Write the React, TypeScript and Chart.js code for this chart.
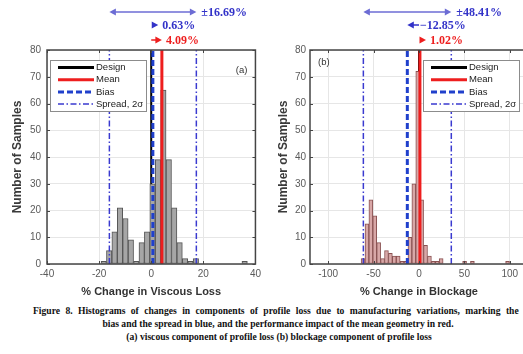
import React, { useEffect, useRef } from 'react';
import { Chart, registerables } from 'chart.js';

Chart.register(...registerables);

const SANS = "'Liberation Sans', Arial, sans-serif";
const SERIF = "'Liberation Serif', 'Times New Roman', serif";

// ---------- Panel (a): % change in viscous loss ----------
const viscousBinCenters = [
  -18.22, -16.14, -14.06, -11.98, -9.9, -7.82, -5.74, -3.66, -1.58, 0.5, 2.58, 4.66, 6.74, 8.82,
  10.9, 12.98, 15.06, 17.14, 19.22, 21.3, 23.38, 25.46, 27.54, 29.62, 31.7, 33.78, 35.86,
];
const viscousCounts = [
  1, 5, 12, 21, 17, 9, 1, 8, 12, 30, 39, 65, 39, 21,
  8, 2, 1, 2, 0, 0, 0, 0, 0, 0, 0, 0, 1,
];
const viscousXTicks = [-40, -20, 0, 20, 40];
const viscousXRange = [-40, 40];
const viscousDesign = 0;
const viscousBias = 0.63;
const viscousMean = 4.09;
const viscousSpread = 16.69;

// ---------- Panel (b): % change in blockage ----------
const blockageBinCenters = [
  -61.6, -57.3, -53.0, -48.7, -44.4, -40.1, -35.8, -31.5, -27.2, -22.9, -18.6, -14.3, -10.0,
  -5.7, -1.4, 2.9, 7.2, 11.5, 15.8, 20.1, 24.4, 28.7, 33.0, 37.3, 41.6, 45.9, 50.2, 54.5,
  58.8, 63.1, 67.4, 71.7, 76.0, 80.3, 84.6, 88.9, 93.2, 97.5,
];
const blockageCounts = [
  2, 15, 24, 18, 8, 2, 5, 4, 3, 3, 1, 1, 10,
  30, 72, 24, 7, 3, 1, 1, 2, 0, 0, 0, 0, 0, 1, 0,
  1, 0, 0, 0, 0, 0, 0, 0, 0, 1,
];
const blockageXTicks = [-100, -50, 0, 50, 100];
const blockageXRange = [-120, 120];
const blockageDesign = 0;
const blockageBias = -12.85;
const blockageMean = 1.02;
const blockageSpread = 48.41;

// ---------- shared ----------
const yTicks = [0, 10, 20, 30, 40, 50, 60, 70, 80];
const yRange = [0, 80];
const legendLabels = ['Design', 'Mean', 'Bias', 'Spread, 2\u03c3'];
const yTitle = 'Number of Samples';
const xTitleA = '% Change in Viscous Loss';
const xTitleB = '% Change in Blockage';
const panelLabelA = '(a)';
const panelLabelB = '(b)';
const captionLines = [
  'Figure 8.  Histograms of changes in components of profile loss due to manufacturing variations, marking the',
  'bias and the spread in blue, and the performance impact of the mean geometry in red.',
  '(a) viscous component of profile loss  (b) blockage component of profile loss',
];

const C_DESIGN = '#000000';
const C_MEAN = '#ee1e1e';
const C_BIAS = '#2040cc';
const C_SPREAD = '#3a3ad0';
const C_ARROW = '#6c6cd4';
const C_ANN_BLUE = '#3232c8';

const fmtPct = (v: number) => (v < 0 ? '\u2212' : '') + Math.abs(v).toFixed(2) + '%';

type PanelCfg = {
  centers: number[];
  counts: number[];
  xTicks: number[];
  xRange: number[];
  design: number;
  bias: number;
  mean: number;
  spread: number;
  xTitle: string;
  label: string;
  barFill: string;
  barEdge: string;
  canvasLeft: number;
  canvasWidth: number;
  yAxisWidth: number;
  padRight: number;
  yTickPad: number;
  yTitlePad: number;
  legendSide: 'left' | 'right';
  labelSide: 'left' | 'right';
};

function vline(x: number, color: string, width: number, dash: number[], order: number) {
  return {
    type: 'line' as const,
    data: [
      { x, y: yRange[0] },
      { x, y: yRange[1] },
    ],
    borderColor: color,
    borderWidth: width,
    borderDash: dash,
    pointRadius: 0,
    fill: false,
    order,
  };
}

function makePlugin(cfg: PanelCfg) {
  return {
    id: 'panelDecor',
    afterDatasetsDraw(chart: any) {
      const ctx: CanvasRenderingContext2D = chart.ctx;
      const a = chart.chartArea;
      const xs = chart.scales.x;
      const ys = chart.scales.y;
      ctx.save();
      // frame
      ctx.strokeStyle = '#454545';
      ctx.lineWidth = 1.5;
      ctx.strokeRect(a.left, a.top, a.right - a.left, a.bottom - a.top);
      // inward ticks
      ctx.lineWidth = 1;
      ctx.beginPath();
      cfg.xTicks.forEach((t) => {
        const px = Math.round(xs.getPixelForValue(t)) + 0.5;
        ctx.moveTo(px, a.bottom);
        ctx.lineTo(px, a.bottom - 3);
        ctx.moveTo(px, a.top);
        ctx.lineTo(px, a.top + 3);
      });
      yTicks.forEach((t) => {
        const py = Math.round(ys.getPixelForValue(t)) + 0.5;
        ctx.moveTo(a.left, py);
        ctx.lineTo(a.left + 3, py);
        ctx.moveTo(a.right, py);
        ctx.lineTo(a.right - 3, py);
      });
      ctx.stroke();

      // legend
      const lw = 96;
      const lh = 51;
      const lx = cfg.legendSide === 'left' ? a.left + 3 : a.right - 105;
      const ly = a.top + 10;
      ctx.fillStyle = '#ffffff';
      ctx.fillRect(lx, ly, lw, lh);
      ctx.strokeStyle = '#8c8c8c';
      ctx.lineWidth = 1;
      ctx.strokeRect(lx + 0.5, ly + 0.5, lw, lh);
      const styles = [
        { color: C_DESIGN, width: 3, dash: [] as number[] },
        { color: C_MEAN, width: 3, dash: [] as number[] },
        { color: C_BIAS, width: 3, dash: [6, 3] },
        { color: C_SPREAD, width: 1.5, dash: [6, 2.5, 1.5, 2.5] },
      ];
      legendLabels.forEach((lab, i) => {
        const cy = ly + 7.5 + i * 12.2;
        const st = styles[i];
        ctx.beginPath();
        ctx.setLineDash(st.dash);
        ctx.lineWidth = st.width;
        ctx.strokeStyle = st.color;
        ctx.moveTo(lx + 8, cy);
        ctx.lineTo(lx + 44, cy);
        ctx.stroke();
        ctx.setLineDash([]);
        ctx.fillStyle = '#222';
        ctx.font = `9.5px ${SANS}`;
        ctx.textBaseline = 'middle';
        ctx.textAlign = 'left';
        ctx.fillText(lab, lx + 46, cy);
      });

      // panel label
      ctx.fillStyle = '#333';
      ctx.font = `9.5px ${SANS}`;
      ctx.textBaseline = 'middle';
      if (cfg.labelSide === 'right') {
        ctx.textAlign = 'right';
        ctx.fillText(cfg.label, a.right - 8, a.top + 20);
      } else {
        ctx.textAlign = 'left';
        ctx.fillText(cfg.label, a.left + 8, a.top + 12);
      }
      ctx.restore();
    },
    afterDraw(chart: any) {
      const ctx: CanvasRenderingContext2D = chart.ctx;
      const xs = chart.scales.x;
      const x0 = xs.getPixelForValue(cfg.design);
      ctx.save();
      const head = (tip: number, y: number, dir: number, color: string) => {
        ctx.fillStyle = color;
        ctx.beginPath();
        ctx.moveTo(tip, y);
        ctx.lineTo(tip - dir * 6.5, y - 3.6);
        ctx.lineTo(tip - dir * 6.5, y + 3.6);
        ctx.closePath();
        ctx.fill();
      };
      ctx.font = `bold 12px ${SERIF}`;
      ctx.textBaseline = 'middle';
      ctx.textAlign = 'left';

      // spread double arrow
      const xa = xs.getPixelForValue(cfg.bias - cfg.spread);
      const xb = xs.getPixelForValue(cfg.bias + cfg.spread);
      const y1 = 12;
      ctx.strokeStyle = C_ARROW;
      ctx.lineWidth = 1.5;
      ctx.beginPath();
      ctx.moveTo(xa + 5, y1);
      ctx.lineTo(xb - 5, y1);
      ctx.stroke();
      head(xa, y1, -1, C_ARROW);
      head(xb, y1, 1, C_ARROW);
      ctx.fillStyle = C_ANN_BLUE;
      ctx.fillText('\u00b1' + cfg.spread.toFixed(2) + '%', xb + 5, y1 + 0.5);

      const single = (value: number, y: number, color: string) => {
        const xv = xs.getPixelForValue(value);
        const dir = value >= cfg.design ? 1 : -1;
        const tip = dir > 0 ? Math.max(xv, x0 + 7) : Math.min(xv, x0 - 7);
        if (Math.abs(tip - x0) > 7) {
          ctx.strokeStyle = color;
          ctx.lineWidth = 1.5;
          ctx.beginPath();
          ctx.moveTo(x0, y);
          ctx.lineTo(tip - dir * 5, y);
          ctx.stroke();
        }
        head(tip, y, dir, color);
        ctx.fillStyle = color;
        ctx.fillText(fmtPct(value), dir > 0 ? tip + 4 : x0 + 1, y + 0.5);
      };
      single(cfg.bias, 25, C_ANN_BLUE);
      single(cfg.mean, 40, C_MEAN);
      ctx.restore();
    },
  };
}

function Panel({ cfg }: { cfg: PanelCfg }) {
  const ref = useRef<HTMLCanvasElement | null>(null);
  useEffect(() => {
    if (!ref.current) return;
    const bars = {
      type: 'bar' as const,
      data: cfg.centers.map((c, i) => ({ x: c, y: cfg.counts[i] })),
      backgroundColor: cfg.barFill,
      borderColor: cfg.barEdge,
      borderWidth: 1,
      borderSkipped: false,
      categoryPercentage: 1.0,
      barPercentage: 1.0,
      grouped: false,
      order: 20,
    };
    const chart = new Chart(ref.current, {
      type: 'bar',
      data: {
        datasets: [
          vline(cfg.design, C_DESIGN, 2, [], 30),
          bars as any,
          vline(cfg.bias - cfg.spread, C_SPREAD, 1.5, [6, 2.5, 1.5, 2.5], 4),
          vline(cfg.bias + cfg.spread, C_SPREAD, 1.5, [6, 2.5, 1.5, 2.5], 4),
          vline(cfg.bias, C_BIAS, 3, [6, 3], 3),
          vline(cfg.mean, C_MEAN, 3, [], 2),
        ] as any,
      },
      options: {
        animation: false,
        responsive: false,
        devicePixelRatio: 1,
        datasets: { bar: { categoryPercentage: 1.0, barPercentage: 1.0 } },
        layout: { padding: { top: 50, right: cfg.padRight, left: 0, bottom: 0 } },
        plugins: { legend: { display: false }, tooltip: { enabled: false } },
        scales: {
          x: {
            type: 'linear',
            min: cfg.xRange[0],
            max: cfg.xRange[1],
            offset: false,
            afterBuildTicks: (s: any) => {
              s.ticks = cfg.xTicks.map((v) => ({ value: v }));
            },
            afterFit: (s: any) => {
              s.height = 36;
            },
            grid: { color: '#e6e6e6', drawTicks: false, offset: false },
            border: { display: false },
            ticks: {
              color: '#5a5a5a',
              font: { family: SANS, size: 10 },
              padding: 4,
              maxRotation: 0,
              autoSkip: false,
              callback: (v: any) => String(v),
            },
            title: {
              display: true,
              text: cfg.xTitle,
              color: '#333',
              font: { family: SANS, size: 11, weight: 'bold' },
              padding: { top: 0, bottom: 1.5 },
            },
          },
          y: {
            type: 'linear',
            min: yRange[0],
            max: yRange[1],
            afterBuildTicks: (s: any) => {
              s.ticks = yTicks.map((v) => ({ value: v }));
            },
            afterFit: (s: any) => {
              s.width = cfg.yAxisWidth;
            },
            grid: { color: '#e6e6e6', drawTicks: false },
            border: { display: false },
            ticks: {
              color: '#5a5a5a',
              font: { family: SANS, size: 10 },
              padding: cfg.yTickPad,
              autoSkip: false,
            },
            title: {
              display: true,
              text: yTitle,
              color: '#3a3a3a',
              font: { family: SANS, size: 12, weight: 'bold' },
              padding: { top: cfg.yTitlePad, bottom: 0 },
            },
          },
        },
      } as any,
      plugins: [makePlugin(cfg)],
    });
    return () => chart.destroy();
  }, [cfg]);
  return (
    <canvas
      ref={ref}
      width={cfg.canvasWidth}
      height={300}
      style={{ position: 'absolute', left: cfg.canvasLeft, top: 0, width: cfg.canvasWidth, height: 300 }}
    />
  );
}

const cfgA: PanelCfg = {
  centers: viscousBinCenters,
  counts: viscousCounts,
  xTicks: viscousXTicks,
  xRange: viscousXRange,
  design: viscousDesign,
  bias: viscousBias,
  mean: viscousMean,
  spread: viscousSpread,
  xTitle: xTitleA,
  label: panelLabelA,
  barFill: '#a6a6a6',
  barEdge: '#555555',
  canvasLeft: 0,
  canvasWidth: 265,
  yAxisWidth: 47,
  padRight: 5,
  yTickPad: 6,
  yTitlePad: 10,
  legendSide: 'left',
  labelSide: 'right',
};

const cfgB: PanelCfg = {
  centers: blockageBinCenters,
  counts: blockageCounts,
  xTicks: blockageXTicks,
  xRange: blockageXRange,
  design: blockageDesign,
  bias: blockageBias,
  mean: blockageMean,
  spread: blockageSpread,
  xTitle: xTitleB,
  label: panelLabelB,
  barFill: '#d8a7a7',
  barEdge: '#8a5252',
  canvasLeft: 265,
  canvasWidth: 265,
  yAxisWidth: 45,
  padRight: 2,
  yTickPad: 4,
  yTitlePad: 11,
  legendSide: 'right',
  labelSide: 'left',
};

export default function App() {
  const capStyle: React.CSSProperties = {
    position: 'absolute',
    fontFamily: SERIF,
    fontWeight: 'bold',
    fontSize: '9.6px',
    lineHeight: '13px',
    whiteSpace: 'nowrap',
    color: '#111',
  };
  return (
    <div
      style={{
        position: 'fixed',
        left: 0,
        top: 0,
        width: 523,
        height: 354,
        overflow: 'hidden',
        background: '#ffffff',
      }}
    >
      <Panel cfg={cfgA} />
      <Panel cfg={cfgB} />
      <div style={{ ...capStyle, left: 33, top: 304, wordSpacing: '3px' }}>{captionLines[0]}</div>
      <div style={{ ...capStyle, left: -22, width: 600, textAlign: 'center', top: 317 }}>{captionLines[1]}</div>
      <div style={{ ...capStyle, left: -21, width: 600, textAlign: 'center', top: 330 }}>{captionLines[2]}</div>
    </div>
  );
}
